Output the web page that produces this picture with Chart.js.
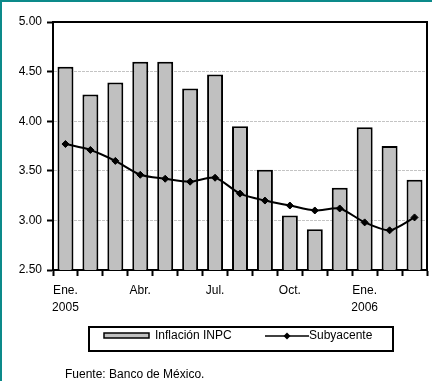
<!DOCTYPE html>
<html>
<head>
<meta charset="utf-8">
<script src="https://cdn.jsdelivr.net/npm/chart.js@4/dist/chart.umd.min.js"></script>
<style>
  html, body { margin: 0; padding: 0; background: #ffffff; }
  #wrap { position: relative; width: 432px; height: 381px; }
  canvas { display: block; }
</style>
</head>
<body>
<div id="wrap"><canvas id="c" width="432" height="381"></canvas></div>
<script>
// Monthly categories, Jan 2005 – Mar 2006
const months = [
  ['Ene.', '2005'], '', '', 'Abr.', '', '', 'Jul.', '', '', 'Oct.', '', '',
  ['Ene.', '2006'], '', ''
];
// Annual headline inflation (INPC), %
const inflacionINPC = [4.55, 4.27, 4.39, 4.60, 4.60, 4.33, 4.47, 3.95, 3.51, 3.05, 2.91, 3.33, 3.94, 3.75, 3.41];
// Annual core inflation, %
const subyacente = [3.77, 3.71, 3.60, 3.46, 3.42, 3.39, 3.43, 3.27, 3.20, 3.15, 3.10, 3.12, 2.98, 2.90, 3.03];
// Value axis
const yMin = 2.5, yMax = 5.0, yStep = 0.5;

const legendLabels = ['Inflación INPC', 'Subyacente'];
const sourceNote = 'Fuente: Banco de México.';

const FONT = '"Liberation Sans", Arial, sans-serif';

// Frame: teal edge strips, plot outline, boxed legend and source note
const decorations = {
  id: 'decorations',
  beforeDraw(chart) {
    const ctx = chart.ctx;
    ctx.save();
    ctx.fillStyle = '#ffffff';
    ctx.fillRect(0, 0, chart.width, chart.height);
    ctx.restore();
  },
  afterDraw(chart) {
    const ctx = chart.ctx;
    const a = chart.chartArea;
    ctx.save();
    // teal strips along the top and left edges
    ctx.fillStyle = '#0c8a8a';
    ctx.fillRect(0, 0, chart.width, 2);
    ctx.fillRect(0, 0, 2, chart.height);

    // top and right plot edges
    ctx.strokeStyle = '#000000';
    ctx.lineWidth = 2;
    ctx.beginPath();
    ctx.moveTo(a.left - 1, a.top);
    ctx.lineTo(a.right, a.top);
    ctx.lineTo(a.right, a.bottom);
    ctx.stroke();

    // legend box
    ctx.lineWidth = 2;
    ctx.strokeRect(89, 327, 304, 24);

    // bar swatch
    ctx.fillStyle = '#c0c0c0';
    ctx.fillRect(104, 333, 45, 5);
    ctx.lineWidth = 1.5;
    ctx.strokeRect(104, 333, 45, 5);

    ctx.font = '12px ' + FONT;
    ctx.fillStyle = '#000000';
    ctx.textBaseline = 'middle';
    ctx.textAlign = 'left';
    ctx.fillText(legendLabels[0], 155, 336);

    // line swatch with marker
    ctx.lineWidth = 1.5;
    ctx.beginPath();
    ctx.moveTo(265, 336);
    ctx.lineTo(309, 336);
    ctx.stroke();
    ctx.beginPath();
    ctx.moveTo(287, 332.5);
    ctx.lineTo(290.5, 336);
    ctx.lineTo(287, 339.5);
    ctx.lineTo(283.5, 336);
    ctx.closePath();
    ctx.fill();
    ctx.fillText(legendLabels[1], 309, 336);

    // source note
    ctx.font = '12px ' + FONT;
    ctx.textBaseline = 'alphabetic';
    ctx.fillText(sourceNote, 65, 378);
    ctx.restore();
  }
};

new Chart(document.getElementById('c'), {
  data: {
    labels: months,
    datasets: [
      {
        type: 'line',
        label: legendLabels[1],
        data: subyacente,
        order: 0,
        borderColor: '#000000',
        borderWidth: 2,
        backgroundColor: '#000000',
        pointStyle: 'rectRot',
        pointRadius: 3.5,
        pointBackgroundColor: '#000000',
        pointBorderColor: '#000000',
        pointBorderWidth: 1,
        tension: 0.25,
        fill: false
      },
      {
        type: 'bar',
        label: legendLabels[0],
        data: inflacionINPC,
        order: 1,
        backgroundColor: '#c0c0c0',
        borderColor: '#000000',
        borderWidth: 2,
        borderSkipped: false,
        barPercentage: 0.64,
        categoryPercentage: 1.0
      }
    ]
  },
  options: {
    responsive: false,
    devicePixelRatio: 1,
    animation: false,
    layout: { padding: { left: 0, top: 22, right: 2, bottom: 0 } },
    plugins: {
      legend: { display: false },
      tooltip: { enabled: false }
    },
    scales: {
      x: {
        type: 'category',
        offset: true,
        afterFit(scale) { scale.height = 111; },
        grid: {
          offset: true,
          drawOnChartArea: false,
          drawTicks: true,
          tickLength: 6,
          tickColor: '#000000',
          tickWidth: 2
        },
        border: { display: true, color: '#000000', width: 2 },
        ticks: {
          autoSkip: false,
          maxRotation: 0,
          minRotation: 0,
          padding: 6,
          color: '#000000',
          font: { family: FONT, size: 12, lineHeight: 1.45 }
        }
      },
      y: {
        min: yMin,
        max: yMax,
        afterFit(scale) { scale.width = 53; },
        grid: {
          color: '#c4c4c4',
          lineWidth: 1,
          drawTicks: true,
          tickLength: 6,
          tickColor: '#000000',
          tickWidth: 2
        },
        border: { display: true, color: '#000000', width: 2, dash: [3, 1] },
        ticks: {
          stepSize: yStep,
          padding: 5,
          color: '#000000',
          font: { family: FONT, size: 12 },
          callback: v => Number(v).toFixed(2)
        }
      }
    }
  },
  plugins: [decorations]
});
</script>
</body>
</html>
